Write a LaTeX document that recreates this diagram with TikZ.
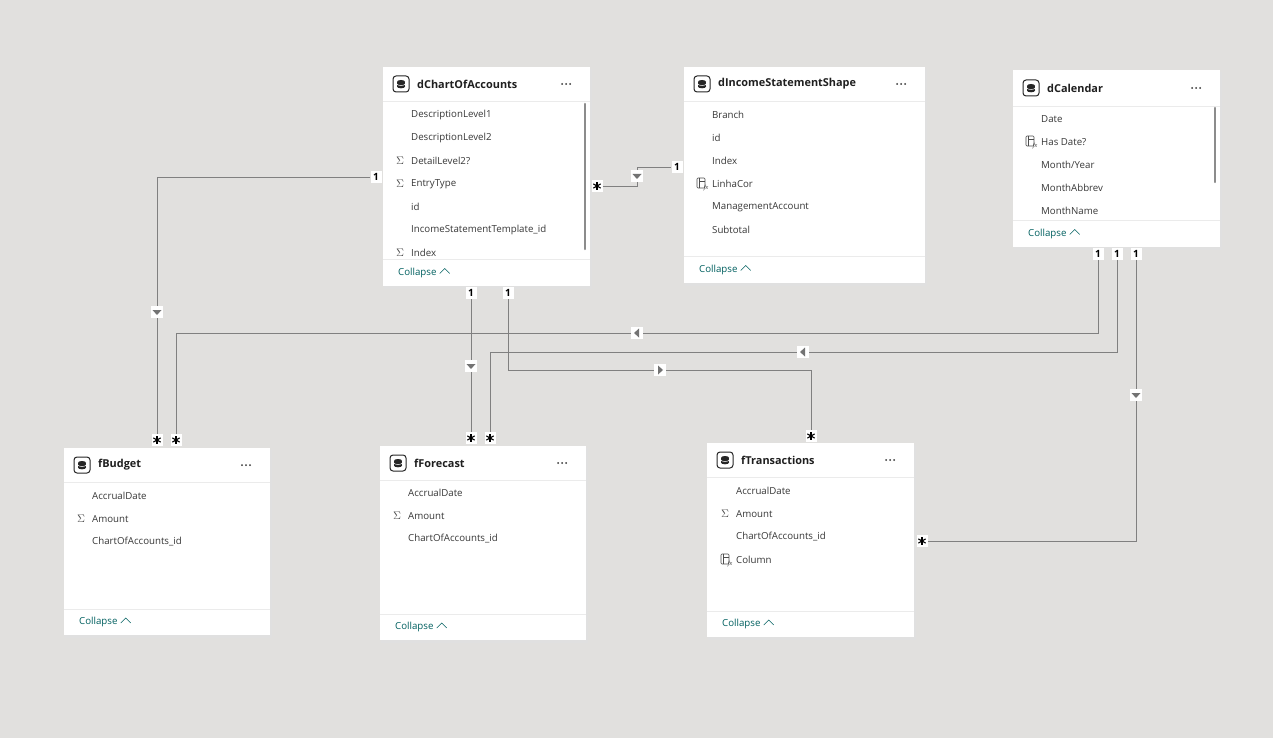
\documentclass[tikz,border=0pt]{standalone}
\usepackage{fontspec}
\setmainfont{Open Sans}
\begin{document}
\begin{tikzpicture}[x=1pt,y=-1pt,
  fld/.style={anchor=west,font=\fontsize{9.7}{11}\selectfont,text=black!78,inner sep=0},
  ttl/.style={anchor=west,font=\fontsize{10.9}{12}\selectfont\bfseries,text=black!88,inner sep=0},
  coll/.style={anchor=west,font=\fontsize{9.7}{11}\selectfont,text=teal!75!black,inner sep=0},
  card/.style={fill=white,inner sep=1.2pt,font=\fontsize{10}{10}\selectfont\bfseries,minimum width=11pt,minimum height=12pt},
  mk/.style={fill=white,minimum size=12pt,inner sep=0},
  conn/.style={draw=black!50,line width=0.8pt},
  sep/.style={draw=black!8,line width=0.6pt}]
\definecolor{bg}{HTML}{E1E0DE}
\fill[bg] (0,0) rectangle (1273,738);
\useasboundingbox (0,0) rectangle (1273,738);
\newcommand{\tbox}[8]{% name x1 y1 x2 y2 headerDiv collapseDiv title
  \fill[black!12] (#2+1,#3+2) rectangle (#4+2,#5+3);
  \fill[white] (#2,#3) rectangle (#4,#5);
  \node[inner sep=0,minimum size=0] (#1) at ({(#2+#4)/2},{(#3+#5)/2}) {};
  \draw[sep] (#2,#6) -- (#4,#6);
  \draw[sep] (#2,#7) -- (#4,#7);
  \pgfmathsetmacro{\ty}{(#3+#6)/2}
  \draw[black!85,line width=1pt,rounded corners=3pt] (#2+10,\ty-8) rectangle (#2+26,\ty+8);
  \fill[black!85] (#2+18,\ty-2.2) ellipse (4pt and 1.8pt);
  \fill[black!85] (#2+14,\ty-2.2) rectangle (#2+22,\ty+2.5);
  \fill[black!85] (#2+18,\ty+2.5) ellipse (4pt and 1.8pt);
  \draw[white,line width=0.5pt] (#2+14,\ty) arc[start angle=180,end angle=360,x radius=4pt,y radius=1.5pt];
  \node[ttl] at (#2+34,\ty) {#8};
  \foreach \dx in {0,4,8} \fill[black!80] (#4-28+\dx,\ty) circle (1pt);
  \pgfmathsetmacro{\cy}{(#7+#5)/2}
  \node[coll] (#1c) at (#2+15,\cy) {Collapse};
  \draw[teal!75!black,line width=0.5pt] ([xshift=3pt,yshift=-1pt]#1c.east) -- ++(5,-5) -- ++(5,5);
}
\newcommand{\fx}[2]{%
  \draw[black!70,line width=0.6pt,rounded corners=1pt] (#1-5,#2-6) rectangle (#1+3,#2+4);
  \draw[black!70,line width=0.5pt] (#1-3,#2-6) -- (#1-3,#2+4);
  \draw[black!70,line width=0.5pt] (#1-3,#2-3) -- (#1+3,#2-3);
  \node[inner sep=0,font=\fontsize{5.5}{6}\selectfont\itshape,text=black!80] at (#1+4,#2+4) {fx};
}
\newcommand{\sig}[2]{\node[inner sep=0,text=black!70,font=\fontsize{11}{12}\selectfont] at (#1,#2) {$\Sigma$};}
\newcommand{\bigast}{\tikz[baseline=-3pt,x=1pt,y=1pt,line width=1.1pt]{\foreach \a in {90,150,210,270,330,30} \draw (0,0) -- (\a:4.2);}}
% dChartOfAccounts
\tbox{coa}{383}{67}{590}{286}{101}{259}{dChartOfAccounts}
\foreach \t [count=\i from 0] in {DescriptionLevel1,DescriptionLevel2,DetailLevel2?,EntryType,id,IncomeStatementTemplate\_id,Index}
  \node[fld] at (411,115+23*\i) {\t};
\sig{400}{161}\sig{400}{184}\sig{400}{253}
\draw[black!45,line width=2.5pt,line cap=round] (585,104) -- (585,249);
% dIncomeStatementShape
\tbox{iss}{684}{67}{925}{283}{101}{256}{dIncomeStatementShape}
\foreach \t [count=\i from 0] in {Branch,id,Index,LinhaCor,ManagementAccount,Subtotal}
  \node[fld] at (712,115+23*\i) {\t};
\fx{702}{184}
% dCalendar
\tbox{cal}{1013}{70}{1220}{247}{106}{220}{dCalendar}
\foreach \t [count=\i from 0] in {Date,Has Date?,Month/Year,MonthAbbrev,MonthName}
  \node[fld] at (1041,119+23*\i) {\t};
\fx{1031}{142}
\draw[black!45,line width=2.5pt,line cap=round] (1215,108) -- (1215,182);
% fBudget
\tbox{bud}{64}{448}{270}{635}{482}{609}{fBudget}
\foreach \t [count=\i from 0] in {AccrualDate,Amount,ChartOfAccounts\_id}
  \node[fld] at (92,496+23*\i) {\t};
\sig{81}{519}
% fForecast
\tbox{fc}{380}{446}{586}{640}{480}{614}{fForecast}
\foreach \t [count=\i from 0] in {AccrualDate,Amount,ChartOfAccounts\_id}
  \node[fld] at (408,493+23*\i) {\t};
\sig{397}{516}
% fTransactions
\tbox{ft}{707}{443}{914}{637}{477}{611}{fTransactions}
\foreach \t [count=\i from 0] in {AccrualDate,Amount,ChartOfAccounts\_id,Column}
  \node[fld] at (736,491+23*\i) {\t};
\sig{725}{514}
\fx{726}{560}
% ---------- connectors ----------
\coordinate (b1) at (157,177); \coordinate (b2) at (637,186); \coordinate (b3) at (637,167);
\coordinate (b4) at (508,370); \coordinate (b5) at (811,370);
\coordinate (c1) at (1098,333); \coordinate (c2) at (176,333);
\coordinate (c3) at (1117,352); \coordinate (c4) at (490,352);
\coordinate (c5) at (1136,541);
\node[card] (k1) at (376,177) {1};
\node[card] (s1) at (157,440) {\bigast};
\node[card] (s2) at (597,186) {\bigast};
\node[card] (k2) at (677,167) {1};
\node[card] (k3) at (471,293) {1};
\node[card] (s3) at (471,438) {\bigast};
\node[card] (k4) at (508,293) {1};
\node[card] (s4) at (811,436) {\bigast};
\node[card] (k5) at (1098,254) {1};
\node[card] (s5) at (176,440) {\bigast};
\node[card] (k6) at (1117,254) {1};
\node[card] (s6) at (490,438) {\bigast};
\node[card] (k7) at (1136,254) {1};
\node[card] (s7) at (922,541) {\bigast};
\draw[conn] (k1) -- (b1) -- (s1);
\draw[conn] (s2) -- (b2) -- (b3) -- (k2);
\draw[conn] (k3) -- (s3);
\draw[conn] (k4) -- (b4) -- (b5) -- (s4);
\draw[conn] (k5) -- (c1) -- (c2) -- (s5);
\draw[conn] (k6) -- (c3) -- (c4) -- (s6);
\draw[conn] (k7) -- (c5) -- (s7);
\newcommand{\mkdown}[2]{\node[mk] at (#1,#2) {}; \fill[black!55] (#1-4.5,#2-2) -- (#1+4.5,#2-2) -- (#1,#2+3) -- cycle;}
\newcommand{\mkleft}[2]{\node[mk] at (#1,#2) {}; \fill[black!55] (#1+2,#2-4.5) -- (#1+2,#2+4.5) -- (#1-3,#2) -- cycle;}
\newcommand{\mkright}[2]{\node[mk] at (#1,#2) {}; \fill[black!55] (#1-2,#2-4.5) -- (#1-2,#2+4.5) -- (#1+3,#2) -- cycle;}
\mkdown{157}{312}\mkdown{637}{176}\mkdown{471}{366}\mkdown{1136}{395}
\mkright{660}{370}\mkleft{637}{333}\mkleft{803}{352}
\end{tikzpicture}
\end{document}
